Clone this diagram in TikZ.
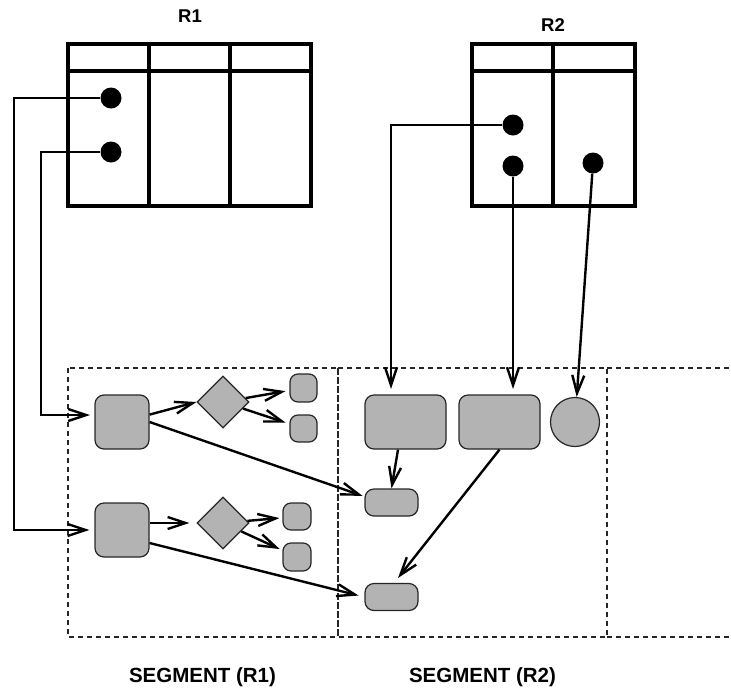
\documentclass[tikz,border=0pt]{standalone}
\usepackage{fontspec}
\setmainfont{Liberation Sans}
\usetikzlibrary{arrows.meta,shapes.geometric}
\definecolor{shade}{HTML}{B3B3B3}
\begin{document}
\begin{tikzpicture}[x=1pt,y=-1pt,
  tbl/.style={line width=3.2pt},
  dot/.style={circle,fill=black,minimum size=21pt,inner sep=0pt},
  conn/.style={line width=2.4pt,-{Straight Barb[length=18pt,width=12pt]}},
  seg/.style={dashed,dash pattern=on 5pt off 4pt,line width=1.2pt,draw=black!85},
  box/.style={draw=black!85,fill=shade,line width=1.2pt,rounded corners=9pt,inner sep=0pt},
  dia/.style={diamond,draw=black!85,fill=shade,line width=1.2pt,minimum width=52pt,minimum height=52pt,inner sep=0pt},
  lbl/.style={font=\bfseries\fontsize{18.5}{22}\selectfont,inner sep=0pt},
  slbl/.style={font=\bfseries\fontsize{20.5}{24}\selectfont,inner sep=0pt}]
\useasboundingbox (0,0) rectangle (731,689);
% tables
\node[lbl] (r1) at (190,16.5) {R1};
\node[lbl] (r2) at (553,25) {R2};
\draw[tbl] (68,44) rectangle (311,206);
\draw[tbl] (68,71) -- (311,71);
\draw[tbl] (149,44) -- (149,206);
\draw[tbl] (230,44) -- (230,206);
\draw[tbl] (472,44) rectangle (635,206);
\draw[tbl] (472,71) -- (635,71);
\draw[tbl] (553,44) -- (553,206);
\node[dot] (d1) at (111,98) {};
\node[dot] (d2) at (111,152) {};
\node[dot] (e1) at (513,125) {};
\node[dot] (e2) at (513,166) {};
\node[dot] (e3) at (593,163) {};
% segments
\draw[seg] (68,368) rectangle (338,637);
\draw[seg] (338,368) rectangle (607,637);
\draw[seg] (607,368) -- (731,368);
\draw[seg] (607,637) -- (731,637);
\node[slbl] (s1) at (202.5,677.5) {SEGMENT (R1)};
\node[slbl] (s2) at (482.5,677.5) {SEGMENT (R2)};
% segment 1 shapes
\node[box,minimum width=54pt,minimum height=54pt] (sqA) at (122,422) {};
\node[box,minimum width=54pt,minimum height=54pt] (sqB) at (122,530) {};
\node[dia] (dA) at (223,402) {};
\node[dia] (dB) at (223,523) {};
\node[box,rounded corners=8pt,minimum width=27pt,minimum height=28pt] (sA1) at (303.5,388) {};
\node[box,rounded corners=8pt,minimum width=27pt,minimum height=27pt] (sA2) at (303.5,428.5) {};
\node[box,rounded corners=8pt,minimum width=28pt,minimum height=27pt] (sB1) at (297,516.5) {};
\node[box,rounded corners=8pt,minimum width=28pt,minimum height=28pt] (sB2) at (297,557) {};
% segment 2 shapes
\node[box,minimum width=81pt,minimum height=54pt] (bA) at (405.5,422) {};
\node[box,minimum width=81pt,minimum height=54pt] (bB) at (499.5,422) {};
\node[circle,draw=black!85,fill=shade,line width=1.2pt,minimum size=49pt,inner sep=0pt] (ci) at (575,422) {};
\node[box,minimum width=53pt,minimum height=27pt] (m1) at (391.5,502.5) {};
\node[box,minimum width=53pt,minimum height=27pt] (m2) at (391.5,597) {};
% coordinates
\coordinate (k1) at (14,530);
\coordinate (k2) at (41,415);
\coordinate (k2t) at (90,415);
\coordinate (t1) at (391,389);
\coordinate (t2) at (513,389);
\coordinate (t5) at (398,578);
% connectors from tables
\draw[conn] (d1) -| (k1) -- ([xshift=-5pt]sqB.west);
\draw[conn] (d2) -| (k2) -- (k2t);
\draw[conn] (e1) -| (t1);
\draw[conn] (e2) -- (t2);
\draw[conn] (e3) -- (ci);
% segment 1 connectors
\draw[conn] (sqA) -- (dA.west);
\draw[conn,shorten >=4pt] (dA) -- (sA1);
\draw[conn,shorten >=4pt] (dA) -- (sA2);
\draw[conn,shorten >=7pt] (sqB.east |- dB) -- (dB.west);
\draw[conn,shorten >=3pt] (dB) -- (sB1);
\draw[conn,shorten >=3pt] (dB) -- (sB2);
\draw[conn,shorten >=2pt] (sqA.east) -- ([yshift=6pt]m1.west);
\draw[conn,shorten >=6pt] ([yshift=-13pt]sqB.east) -- (m2.west);
% segment 2 connectors
\draw[conn] ([xshift=-7.5pt]bA.south) -- (m1.north);
\draw[conn] (bB.south) -- (t5);
\end{tikzpicture}
\end{document}
